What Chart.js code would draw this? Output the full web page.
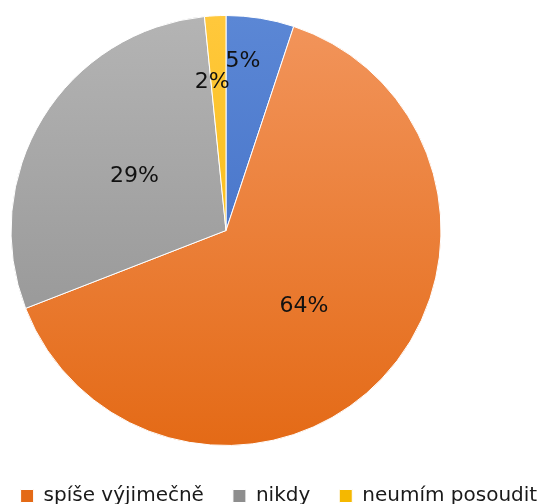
<!DOCTYPE html>
<html>
<head>
<meta charset="utf-8">
<script src="https://cdn.jsdelivr.net/npm/chart.js@4/dist/chart.umd.min.js"></script>
<style>
  html, body { margin: 0; padding: 0; background: #fff; overflow: hidden; }
  #wrap { position: relative; width: 544px; height: 504px; overflow: hidden; }
  #pie { position: absolute; left: -174px; top: 0; }
</style>
</head>
<body>
<div id="wrap">
  <canvas id="pie" width="800" height="516"></canvas>
</div>
<script>
'use strict';

// data
let categories = ['často', 'spíše výjimečně', 'nikdy', 'neumím posoudit'];
let shares = [5.1, 64.0, 29.3, 1.6];

// styling
let topColors = ['#5b87d5', '#f2955c', '#b4b4b4', '#ffc83c'];
let bottomColors = ['#3a68c2', '#e46a16', '#8e8e8e', '#f5b800'];
let labelRadius = [0.8, 0.5, 0.5, 0.7];
let labelTurn = [-3.5, 0, 0, -2.4];
let pieRadius = 215;

function sliceFill(context) {
    let i = context.dataIndex;
    let chart = context.chart;
    let area = chart.chartArea;
    if (!area) {
        return topColors[i];
    }
    let cy = (area.top + area.bottom) / 2;
    let g = chart.ctx.createLinearGradient(0, cy - pieRadius, 0, cy + pieRadius);
    g.addColorStop(0, topColors[i]);
    g.addColorStop(1, bottomColors[i]);
    return g;
}

// percentage labels inside the slices
let percentLabels = {
    id: 'percentLabels',
    afterDatasetsDraw(chart) {
        let ctx = chart.ctx;
        let meta = chart.getDatasetMeta(0);
        let total = shares.reduce((a, b) => a + b, 0);
        ctx.save();
        ctx.font = '22px "DejaVu Sans"';
        ctx.fillStyle = '#111';
        ctx.textAlign = 'center';
        ctx.textBaseline = 'middle';
        meta.data.forEach(function (arc, i) {
            let p = arc.getProps(['x', 'y', 'startAngle', 'endAngle', 'outerRadius'], true);
            let mid = (p.startAngle + p.endAngle) / 2 + labelTurn[i] * Math.PI / 180;
            let r = p.outerRadius * labelRadius[i];
            let tx = p.x + Math.cos(mid) * r;
            let ty = p.y + Math.sin(mid) * r + 1.5;
            ctx.fillText(Math.round(shares[i] / total * 100) + '%', tx, ty);
        });
        ctx.restore();
    }
};

let ctx = document.getElementById('pie').getContext('2d');
let chart = new Chart(ctx, {
    type: 'pie',
    data: {
        labels: categories,
        datasets: [{
            data: shares,
            backgroundColor: sliceFill,
            borderColor: '#ffffff',
            borderWidth: 1,
            radius: pieRadius
        }]
    },
    options: {
        responsive: false,
        animation: false,
        layout: { padding: { top: 4, left: 0, right: 0, bottom: 0 } },
        plugins: {
            tooltip: { enabled: false },
            legend: {
                position: 'bottom',
                labels: {
                    font: { family: '"DejaVu Sans"', size: 20 },
                    color: '#1a1a1a',
                    boxWidth: 13,
                    boxHeight: 13,
                    padding: 29
                }
            }
        }
    },
    plugins: [percentLabels]
});
</script>
</body>
</html>
